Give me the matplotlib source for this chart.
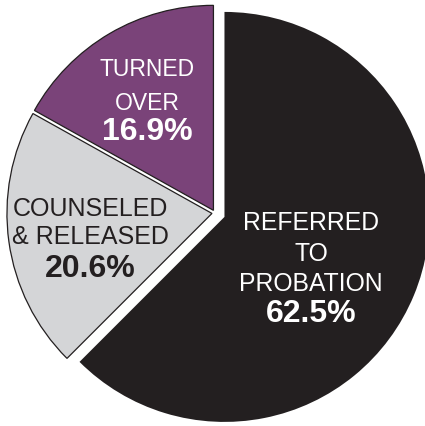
import matplotlib.pyplot as plt

plt.rcParams['font.family'] = ['Liberation Sans', 'DejaVu Sans']

categories = ["REFERRED\nTO\nPROBATION", "COUNSELED\n& RELEASED", "TURNED\nOVER"]
shares = [62.5, 20.6, 16.9]
pct_labels = ["62.5%", "20.6%", "16.9%"]
colors = ["#231f20", "#d4d5d7", "#7a4379"]
text_colors = ["white", "#231f20", "white"]

W, H = 425, 427
fig = plt.figure(figsize=(W / 100, H / 100), dpi=100)
ax = fig.add_axes([0, 0, 1, 1])

wedges, _ = ax.pie(shares, colors=colors, startangle=90, counterclock=False,
                   explode=[0.05, 0.015, 0.015], radius=1.0,
                   wedgeprops=dict(edgecolor="#231f20", linewidth=0.9))
wedges[0].set_edgecolor("none")

# pie origin sits at about (215, 214) px, radius ~205 px
ax.set_xlim(-215 / 205, (W - 215) / 205)
ax.set_ylim(-(H - 214) / 205, 214 / 205)
ax.set_aspect("equal")
ax.axis("off")

# label block layout: (x centre px, baselines px, name size, pct baseline)
layout = [
    (311, [230, 261, 291], 17.8, 322),
    (90, [216, 244], 18, 277),
    (147, [76, 110], 16.5, 140),
]

for name, pct, tc, (xc, bases, fs, pbase) in zip(categories, pct_labels, text_colors, layout):
    for line, yb in zip(name.split("\n"), bases):
        fig.text(xc / W, 1 - yb / H, line, ha="center", va="baseline",
                 fontsize=fs, color=tc)
    fig.text(xc / W, 1 - pbase / H, pct, ha="center", va="baseline",
             fontsize=23, fontweight="bold", color=tc)

fig.savefig("out.png", dpi=100)
